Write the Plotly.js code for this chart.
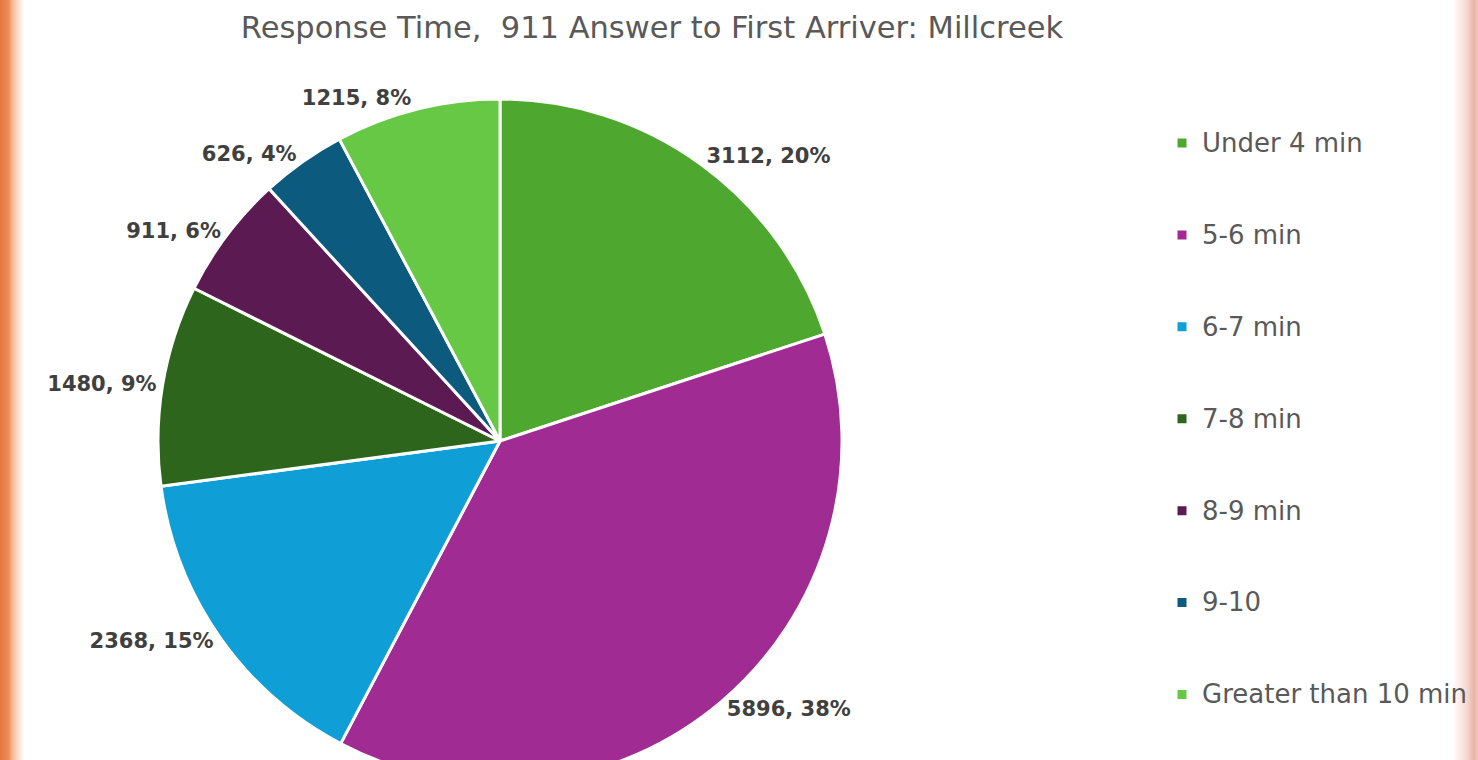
<!DOCTYPE html>
<html>
<head>
<meta charset="utf-8">
<script src="https://cdn.plot.ly/plotly-3.0.1.min.js"></script>
<style>
  html, body { margin: 0; padding: 0; overflow: hidden; width: 1478px; height: 760px; }
  body {
    background:
      linear-gradient(to right, #e8763e 0px, #ec8a55 8px, #f6c4a8 14px, #ffffff 24px, #ffffff 1452px, #f7dcd4 1466px, #e9b4a6 1474px, #f0c6bb 1478px);
  }
  #chart { width: 1478px; height: 800px; }
</style>
</head>
<body>
<div id="chart"></div>
<script>
const categories = ["Under 4 min", "5-6 min", "6-7 min", "7-8 min", "8-9 min", "9-10", "Greater than 10 min"];
const counts = [3112, 5896, 2368, 1480, 911, 626, 1215];
const sliceColors = ["#4ea72e", "#a02b93", "#0f9ed5", "#2e651c", "#5c1a52", "#0c5a7e", "#66c844"];
const chartTitle = "Response Time,  911 Answer to First Arriver: Millcreek";

const H = 800;
const nb = "\u00a0";
const legendLabels = categories.map(c => nb + "<br><span style=\"font-size:26px\">" + c + "</span><br>" + nb);

const trace = {
  type: "pie",
  labels: legendLabels,
  values: counts,
  customdata: categories,
  sort: false,
  direction: "clockwise",
  rotation: 0,
  marker: { colors: sliceColors, line: { color: "#ffffff", width: 3 } },
  textposition: "outside",
  texttemplate: "<b>%{value}, %{percent:.0%}</b>",
  outsidetextfont: { family: "DejaVu Sans, sans-serif", size: 21, color: "#404040" },
  hovertemplate: "%{customdata}<br>%{value}, %{percent:.0%}<extra></extra>",
  domain: { x: [158/1478, 842/1478], y: [1 - 783/H, 1 - 99/H] },
  automargin: false
};

const layout = {
  width: 1478,
  height: H,
  margin: { l: 0, r: 0, t: 0, b: 0 },
  paper_bgcolor: "rgba(0,0,0,0)",
  plot_bgcolor: "rgba(0,0,0,0)",
  showlegend: true,
  title: {
    text: chartTitle,
    x: 652/1478, xanchor: "center",
    y: 1 - 27/H, yanchor: "middle",
    font: { family: "DejaVu Sans, sans-serif", size: 30.5, color: "#595959" }
  },
  legend: {
    x: 1162/1478, xanchor: "left",
    y: 1 - 92/H, yanchor: "top",
    font: { family: "DejaVu Sans, sans-serif", size: 22.8, color: "#595959" },
    bgcolor: "rgba(0,0,0,0)",
    borderwidth: 0
  }
};

Plotly.newPlot("chart", [trace], layout, { displayModeBar: false, staticPlot: true });
</script>
</body>
</html>
